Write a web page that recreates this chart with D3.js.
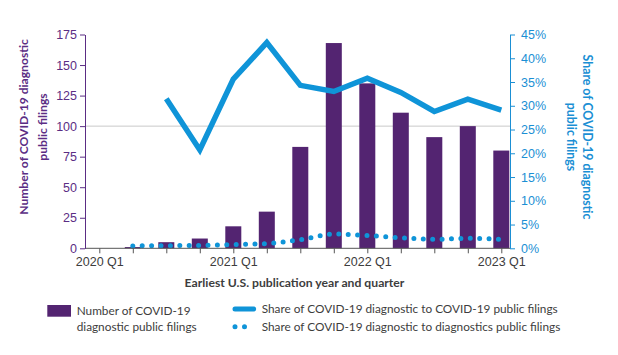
<!DOCTYPE html>
<html><head><meta charset="utf-8">
<script src="https://cdn.jsdelivr.net/npm/d3@7"></script>
<style>
body{margin:0;background:#fff;}
svg{display:block;font-family:Lato,"Open Sans",sans-serif;}
</style></head>
<body><svg id="c" width="618" height="355"></svg>
<script>
const quarters = ["2020 Q1","2020 Q2","2020 Q3","2020 Q4","2021 Q1","2021 Q2","2021 Q3","2021 Q4","2022 Q1","2022 Q2","2022 Q3","2022 Q4","2023 Q1"];
const filings = [0, 1, 5, 8, 18, 30, 83, 168, 135, 111, 91, 100, 80];
const shareCovid = [null, null, 31.5, 20.7, 35.6, 43.3, 34.3, 33.0, 35.8, 32.8, 28.8, 31.4, 29.1];
const shareDiag = [null, 0.5, 0.55, 0.6, 0.8, 1.0, 1.8, 3.0, 2.7, 2.2, 1.9, 2.1, 1.9];
const leftTicks = [0,25,50,75,100,125,150,175];
const rightTicks = [0,5,10,15,20,25,30,35,40,45];
const xLabels = ["2020 Q1","2021 Q1","2022 Q1","2023 Q1"];

const PURPLE = "#532471", PURPLE_T = "#5b2d84", BLUE = "#0f94d8", BLUE_T = "#1b8fd4", GRAY = "#3d3d3d";
const svg = d3.select("#c");
const L = 85, R = 510, T = 34.5, B = 248.3;
const x = d3.scalePoint().domain(quarters).range([99.3, 501.3]);
const yL = d3.scaleLinear().domain([0,175]).range([B, T]);
const yR = d3.scaleLinear().domain([0,45]).range([B, T]);

// gridline at 100
svg.append("line").attr("x1",L).attr("x2",R).attr("y1",yL(100)).attr("y2",yL(100))
  .attr("stroke","#c9c9c9").attr("stroke-width",1);

// bars
const bw = 16;
svg.append("g").selectAll("rect").data(quarters.map((q,i)=>({q,v:filings[i]})).filter(d=>d.v>0))
  .join("rect").attr("x",d=>x(d.q)-bw/2).attr("width",bw)
  .attr("y",d=>yL(d.v)).attr("height",d=>B-yL(d.v)).attr("fill",PURPLE);

// lines
const lineC = d3.line().defined(d=>d.v!=null).x(d=>x(d.q)).y(d=>yR(d.v));
svg.append("path").datum(quarters.map((q,i)=>({q,v:shareCovid[i]})))
  .attr("d",lineC).attr("fill","none").attr("stroke",BLUE).attr("stroke-width",5.5);
const lineD = d3.line().defined(d=>d.v!=null).x(d=>x(d.q)).y(d=>yR(d.v)).curve(d3.curveMonotoneX);
svg.append("path").datum(quarters.map((q,i)=>({q,v:shareDiag[i]})))
  .attr("d",lineD).attr("fill","none").attr("stroke",BLUE).attr("stroke-width",5)
  .attr("stroke-linecap","round").attr("stroke-dasharray","0 9.4");

// bottom axis
const gx = svg.append("g").attr("transform",`translate(0,${B})`)
  .call(d3.axisBottom(x).tickSize(5).tickPadding(4).tickFormat(d=>xLabels.includes(d)?d:""));
gx.select(".domain").remove();
gx.selectAll(".tick line").attr("stroke","#555");
gx.selectAll("text").attr("fill",GRAY).attr("font-size",12.5);
svg.append("line").attr("x1",L).attr("x2",R).attr("y1",B).attr("y2",B).attr("stroke","#555").attr("stroke-width",1);

// left axis
const gl = svg.append("g").attr("transform",`translate(${L},0)`)
  .call(d3.axisLeft(yL).tickValues(leftTicks).tickSize(5).tickPadding(3).tickSizeOuter(0));
gl.select(".domain").attr("stroke",PURPLE_T);
gl.selectAll(".tick line").attr("stroke",PURPLE_T);
gl.selectAll("text").attr("fill",PURPLE_T).attr("font-size",12.5);

// right axis
const gr = svg.append("g").attr("transform",`translate(${R},0)`)
  .call(d3.axisRight(yR).tickValues(rightTicks).tickSize(5).tickPadding(6).tickSizeOuter(0).tickFormat(d=>d+"%"));
gr.select(".domain").attr("stroke",BLUE_T);
gr.selectAll(".tick line").attr("stroke",BLUE_T);
gr.selectAll("text").attr("fill",BLUE_T).attr("font-size",12.5);

// axis titles
const lt = svg.append("text").attr("transform","translate(23.5,127) rotate(-90)")
  .attr("text-anchor","middle").attr("fill",PURPLE_T).attr("font-weight","bold").attr("font-size",12.1);
lt.append("tspan").attr("x",0).attr("dy","0.35em").text("Number of COVID-19 diagnostic");
lt.append("tspan").attr("x",0).attr("dy","1.6em").text("public filings");

const rt = svg.append("text").attr("transform","translate(587,137) rotate(90)")
  .attr("text-anchor","middle").attr("fill",BLUE_T).attr("font-weight","bold").attr("font-size",12.3);
rt.append("tspan").attr("x",0).attr("dy","0.35em").text("Share of COVID-19 diagnostic");
rt.append("tspan").attr("x",0).attr("dy","1.25em").text("public filings");

svg.append("text").attr("x",294.5).attr("y",287).attr("text-anchor","middle")
  .attr("fill",GRAY).attr("font-weight","bold").attr("font-size",12.2)
  .text("Earliest U.S. publication year and quarter");

// legend
const lg = svg.append("g").attr("font-size",11.8).attr("fill",GRAY);
lg.append("rect").attr("x",47.3).attr("y",305).attr("width",23.7).attr("height",11.7).attr("fill",PURPLE);
lg.append("text").attr("x",76.7).attr("y",311.2).attr("dy","0.35em").text("Number of COVID-19");
lg.append("text").attr("x",76.7).attr("y",326.7).attr("dy","0.35em").text("diagnostic public filings");
lg.append("line").attr("x1",235).attr("x2",253.7).attr("y1",309).attr("y2",309)
  .attr("stroke",BLUE).attr("stroke-width",5).attr("stroke-linecap","round");
lg.append("text").attr("x",261.7).attr("y",309).attr("dy","0.35em").text("Share of COVID-19 diagnostic to COVID-19 public filings");
lg.append("line").attr("x1",235).attr("x2",254).attr("y1",326.7).attr("y2",326.7)
  .attr("stroke",BLUE).attr("stroke-width",5).attr("stroke-linecap","round").attr("stroke-dasharray","0 9.5");
lg.append("text").attr("x",261.7).attr("y",326.7).attr("dy","0.35em").text("Share of COVID-19 diagnostic to diagnostics public filings");
</script></body></html>
